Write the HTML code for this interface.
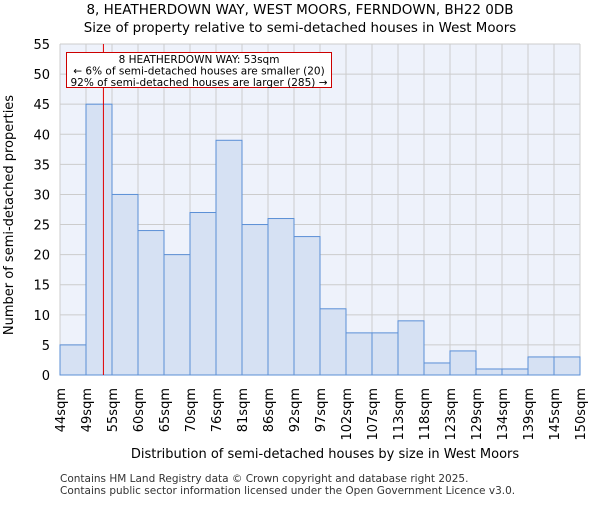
<!DOCTYPE html>
<html><head><meta charset="utf-8"><style>body{margin:0;background:#fff}svg{font-family:"DejaVu Sans","Liberation Sans",sans-serif}</style></head>
<body>
<svg id="chart" width="600" height="500" xmlns="http://www.w3.org/2000/svg">
<text x="300" y="14" text-anchor="middle" font-size="13.5">8, HEATHERDOWN WAY, WEST MOORS, FERNDOWN, BH22 0DB</text>
<text x="300" y="32" text-anchor="middle" font-size="13.4">Size of property relative to semi-detached houses in West Moors</text>
<rect x="60" y="44" width="520" height="331" fill="#eef2fb"/>
<g id="grid"></g><g id="bars"></g><g id="axes"></g>
<text x="325" y="458" text-anchor="middle" font-size="13">Distribution of semi-detached houses by size in West Moors</text>
<text transform="translate(13,215) rotate(-90)" text-anchor="middle" font-size="13">Number of semi-detached properties</text>
<text x="60" y="482" font-size="10.5" fill="#333">Contains HM Land Registry data © Crown copyright and database right 2025.</text>
<text x="60" y="494" font-size="10.5" fill="#333">Contains public sector information licensed under the Open Government Licence v3.0.</text>
</svg>
<script>
const categories=["44sqm","49sqm","55sqm","60sqm","65sqm","70sqm","76sqm","81sqm","86sqm","92sqm","97sqm","102sqm","107sqm","113sqm","118sqm","123sqm","129sqm","134sqm","139sqm","145sqm","150sqm"];
const counts=[5,45,30,24,20,27,39,25,26,23,11,7,7,9,2,4,1,1,3,3];
const yTicks=[0,5,10,15,20,25,30,35,40,45,50,55];
const markerIndex=1.67;
const annotationLines=["8 HEATHERDOWN WAY: 53sqm","← 6% of semi-detached houses are smaller (20)","92% of semi-detached houses are larger (285) →"];
const NS="http://www.w3.org/2000/svg";
const X0=60,X1=580,Y0=375,Y1=44,yMax=55;
const bw=(X1-X0)/counts.length;
const x=i=>X0+i*bw;
const y=v=>Y0-(v/yMax)*(Y0-Y1);
function mk(tag,attrs,parent,txt){const e=document.createElementNS(NS,tag);for(const k in attrs)e.setAttribute(k,attrs[k]);if(txt!==undefined)e.textContent=txt;document.getElementById(parent).appendChild(e);return e;}
yTicks.forEach(t=>{const l=mk('line',{x1:X0,x2:X1,y1:y(t),y2:y(t),stroke:'#cccccc','stroke-width':1},'grid');


const tx=mk('text',{x:X0-10,y:y(t)+5,'text-anchor':'end','font-size':13},'axes',String(t));

});
categories.forEach((c,i)=>{const l=mk('line',{x1:x(i),x2:x(i),y1:Y1,y2:Y0,stroke:'#cccccc','stroke-width':1},'grid');


const tx=mk('text',{transform:`translate(${x(i)+5},388) rotate(-90)`,'text-anchor':'end','font-size':13},'axes',c);

});
counts.forEach((v,i)=>{const r=mk('rect',{x:x(i),y:y(v),width:bw,height:Y0-y(v),fill:'#d6e1f3',stroke:'#5b8fd6','stroke-width':1},'bars');

});
const mx=x(markerIndex);
const ml=mk('line',{x1:mx,x2:mx,y1:Y1,y2:Y0,stroke:'#e00000','stroke-width':1},'axes');


const box=mk('rect',{x:66.5,y:52.5,width:265,height:35,fill:'#fff',stroke:'#cc0000','stroke-width':1},'axes');


annotationLines.forEach((s,k)=>{const t=mk('text',{x:199,y:63+k*11.5,'text-anchor':'middle','font-size':10.5},'axes',s);

});
</script>
</body></html>
